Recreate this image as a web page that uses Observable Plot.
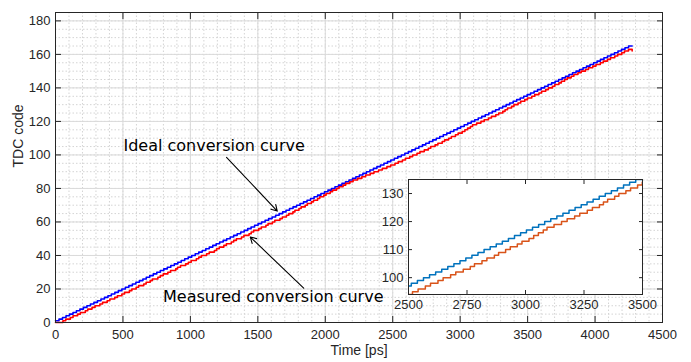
<!DOCTYPE html>
<html><head><meta charset="utf-8">
<script src="https://cdn.jsdelivr.net/npm/d3@7"></script>
<script src="https://cdn.jsdelivr.net/npm/@observablehq/plot@0.6"></script>
<style>
html,body{margin:0;padding:0;background:#fff;}
#wrap{position:relative;width:691px;height:362px;overflow:hidden;}
#wrap svg{position:absolute;max-width:none;}
</style></head><body><div id="wrap"></div>
<script>
// Tick values
const xTicks = [0, 500, 1000, 1500, 2000, 2500, 3000, 3500, 4000, 4500];
const yTicks = [0, 20, 40, 60, 80, 100, 120, 140, 160, 180];
const insetXTicks = [2500, 2750, 3000, 3250, 3500];
const insetYTicks = [100, 110, 120, 130];

// Ideal conversion curve: code 1 at t = 0, then +1 at each of these times (ps)
const idealStartCode = 1;
const idealEdges = [
  26,52,78,104,130,155,181,207,233,259,
  285,311,337,363,389,414,440,466,492,518,
  544,570,596,622,648,673,699,725,751,777,
  803,829,855,881,907,932,958,984,1010,1036,
  1062,1088,1114,1140,1166,1191,1217,1243,1269,1295,
  1321,1347,1373,1399,1425,1450,1476,1502,1528,1554,
  1580,1606,1632,1658,1684,1709,1735,1761,1787,1813,
  1839,1865,1891,1917,1943,1968,1994,2020,2046,2072,
  2098,2124,2150,2176,2202,2227,2253,2279,2305,2331,
  2357,2383,2409,2435,2461,2486,2512,2538,2564,2590,
  2616,2642,2668,2694,2720,2745,2771,2797,2823,2849,
  2875,2901,2927,2953,2979,3004,3030,3056,3082,3108,
  3134,3160,3186,3212,3238,3263,3289,3315,3341,3367,
  3393,3419,3445,3471,3497,3522,3548,3574,3600,3626,
  3652,3678,3704,3730,3756,3781,3807,3833,3859,3885,
  3911,3937,3963,3989,4015,4040,4066,4092,4118,4144,
  4170,4196,4222,4248
];
const idealEnd = [4275, 165];

// Measured conversion curve: code 0 at t = 0, then +1 at each of these times (ps)
const measuredStartCode = 0;
const measuredEdges = [
  55,76,110,130,164,185,221,239,271,293,
  329,349,383,403,439,459,492,512,548,566,
  598,616,654,672,702,718,759,777,799,833,
  853,891,905,927,965,985,1006,1044,1062,1082,
  1120,1140,1178,1194,1214,1248,1267,1303,1321,1341,
  1379,1397,1435,1451,1469,1507,1526,1560,1576,1608,
  1626,1664,1682,1712,1730,1760,1775,1805,1821,1851,
  1867,1897,1913,1943,1959,1989,2006,2036,2054,2084,
  2102,2132,2152,2182,2206,2240,2271,2299,2333,2361,
  2395,2423,2457,2485,2517,2541,2572,2594,2626,2648,
  2680,2702,2734,2764,2782,2814,2835,2867,2885,2915,
  2935,2965,2985,3015,3035,3055,3076,3092,3122,3154,
  3178,3210,3232,3264,3286,3316,3333,3351,3381,3399,
  3429,3449,3479,3499,3531,3553,3584,3604,3634,3654,
  3684,3702,3732,3750,3774,3794,3823,3843,3873,3897,
  3929,3951,3983,4007,4039,4061,4092,4114,4146,4168,
  4198,4218,4248
];
const measuredTail = [[4268, 163], [4275, 162]];

// Build step series
const ideal = [{t: 0, c: idealStartCode}]
  .concat(idealEdges.map((t, i) => ({t, c: idealStartCode + i + 1})))
  .concat([{t: idealEnd[0], c: idealEnd[1]}]);
const measured = [{t: 0, c: measuredStartCode}]
  .concat(measuredEdges.map((t, i) => ({t, c: measuredStartCode + i + 1})))
  .concat(measuredTail.map(([t, c]) => ({t, c})));

const xMinor = d3.range(0, 4501, 100);
const yMinor = d3.range(0, 186, 5);

const axisColor = "#262626";
const tickFont = "'Liberation Sans', Arial, Helvetica, sans-serif";
const plain = d => String(d);

const main = Plot.plot({
  width: 691, height: 362,
  marginLeft: 55, marginRight: 29, marginTop: 12, marginBottom: 40,
  style: {fontFamily: tickFont, fontSize: "13px", color: axisColor, background: "white"},
  x: {domain: [0, 4500], label: null},
  y: {domain: [0, 185], label: null},
  marks: [
    Plot.gridX(xMinor, {stroke: "#d4d4d4", strokeOpacity: 1, strokeDasharray: "1.5,2"}),
    Plot.gridY(yMinor, {stroke: "#d4d4d4", strokeOpacity: 1, strokeDasharray: "1.5,2"}),
    Plot.gridX(xTicks, {stroke: "#dadada", strokeOpacity: 1}),
    Plot.gridY(yTicks, {stroke: "#dadada", strokeOpacity: 1}),
    Plot.line(ideal, {x: "t", y: "c", curve: "step-after", stroke: "#0000ff", strokeWidth: 1.6}),
    Plot.line(measured, {x: "t", y: "c", curve: "step-after", stroke: "#ff0000", strokeWidth: 1.6}),
    Plot.axisX(xTicks, {anchor: "bottom", tickSize: 0, tickPadding: 7, tickFormat: plain, label: null, fill: axisColor}),
    Plot.axisY(yTicks, {anchor: "left", tickSize: 0, tickPadding: 5, tickFormat: plain, label: null, fill: axisColor}),
    Plot.axisX(xTicks, {anchor: "bottom", tickSize: -6, fill: "none", label: null, stroke: axisColor}),
    Plot.axisX(xTicks, {anchor: "top", tickSize: -6, fill: "none", label: null, stroke: axisColor}),
    Plot.axisY(yTicks, {anchor: "left", tickSize: -6, fill: "none", label: null, stroke: axisColor}),
    Plot.axisY(yTicks, {anchor: "right", tickSize: -6, fill: "none", label: null, stroke: axisColor}),
    Plot.frame({stroke: axisColor, strokeWidth: 1}),
    Plot.text(["Time [ps]"], {frameAnchor: "bottom", dy: 32, fontSize: 14, fill: axisColor}),
    Plot.text(["TDC code"], {frameAnchor: "left", dx: -37, rotate: -90, fontSize: 14, fill: axisColor}),
    Plot.text(["Ideal conversion curve"], {x: 504, y: 105.6, textAnchor: "start", fontFamily: "'DejaVu Sans'", fontSize: 16, fill: "#000"}),
    Plot.text(["Measured conversion curve"], {x: 797, y: 15.5, textAnchor: "start", fontFamily: "'DejaVu Sans'", fontSize: 16, fill: "#000"}),
    Plot.arrow([0], {x1: 1268, y1: 98.6, x2: 1644, y2: 66.5, stroke: "#000", strokeWidth: 1.1, headLength: 9}),
    Plot.arrow([0], {x1: 1840, y1: 20.5, x2: 1444, y2: 51, stroke: "#000", strokeWidth: 1.1, headLength: 9})
  ]
});
main.style.left = "0px"; main.style.top = "0px";

const inset = Plot.plot({
  width: 300, height: 145,
  marginLeft: 38, marginRight: 28, marginTop: 9, marginBottom: 21,
  style: {fontFamily: tickFont, fontSize: "13px", color: axisColor, background: "transparent"},
  x: {domain: [2500, 3500], label: null},
  y: {domain: [94, 135], label: null},
  marks: [
    Plot.frame({fill: "white"}),
    Plot.line(ideal, {x: "t", y: "c", curve: "step-after", stroke: "#0072bd", strokeWidth: 1.5, clip: true}),
    Plot.line(measured, {x: "t", y: "c", curve: "step-after", stroke: "#d95319", strokeWidth: 1.5, clip: true}),
    Plot.axisX(insetXTicks, {anchor: "bottom", tickSize: 0, tickPadding: 5, tickFormat: plain, label: null, fill: axisColor}),
    Plot.axisY(insetYTicks, {anchor: "left", tickSize: 0, tickPadding: 5, tickFormat: plain, label: null, fill: axisColor}),
    Plot.axisX(insetXTicks, {anchor: "bottom", tickSize: -4, fill: "none", label: null, stroke: axisColor}),
    Plot.axisX(insetXTicks, {anchor: "top", tickSize: -4, fill: "none", label: null, stroke: axisColor}),
    Plot.axisY(insetYTicks, {anchor: "left", tickSize: -4, fill: "none", label: null, stroke: axisColor}),
    Plot.axisY(insetYTicks, {anchor: "right", tickSize: -4, fill: "none", label: null, stroke: axisColor}),
    Plot.frame({stroke: axisColor, strokeWidth: 1})
  ]
});
inset.style.left = "370px"; inset.style.top = "170px";

const wrap = document.getElementById("wrap");
wrap.appendChild(main);
wrap.appendChild(inset);
</script>
</body></html>
